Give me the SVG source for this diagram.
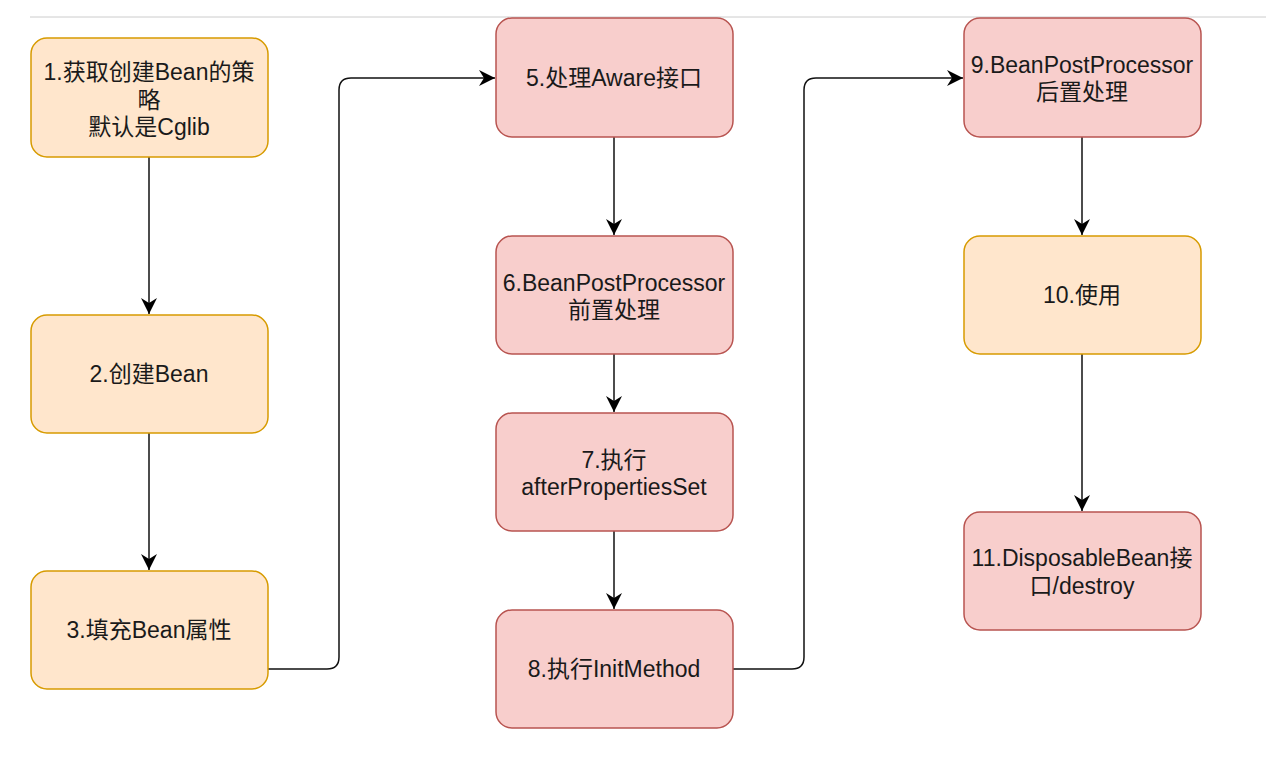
<svg xmlns="http://www.w3.org/2000/svg" width="1266" height="780" viewBox="0 0 1266 780">
<defs>
<marker id="arr" markerWidth="18" markerHeight="18" refX="16" refY="9" orient="auto" markerUnits="userSpaceOnUse">
<path d="M0,1 L16,9 L0,17 L5,9 Z" fill="#000"/>
</marker>
<style>
.o{fill:#ffe6cc;stroke:#d79b00;stroke-width:1.5}
.p{fill:#f8cecc;stroke:#b85450;stroke-width:1.5}
.t{font-family:"Liberation Sans","Noto Sans CJK SC",sans-serif;font-size:23px;fill:#1a1a1a;text-anchor:middle}
.c{fill:none;stroke:#111;stroke-width:1.5}
</style>
</defs>
<rect width="1266" height="780" fill="#fff"/>
<line x1="30" y1="17" x2="1266" y2="17" stroke="#ccc" stroke-width="1"/>
<g id="connectors">
<path class="c" d="M149,157 V314" marker-end="url(#arr)"/>
<path class="c" d="M149,433 V570" marker-end="url(#arr)"/>
<path class="c" d="M268,669 H327 Q339,669 339,657 V90 Q339,78 351,78 H495" marker-end="url(#arr)"/>
<path class="c" d="M614,137 V235" marker-end="url(#arr)"/>
<path class="c" d="M614,354 V412" marker-end="url(#arr)"/>
<path class="c" d="M614,531 V609" marker-end="url(#arr)"/>
<path class="c" d="M733,669 H792 Q804,669 804,657 V90 Q804,78 816,78 H963" marker-end="url(#arr)"/>
<path class="c" d="M1082,137 V235" marker-end="url(#arr)"/>
<path class="c" d="M1082,354 V511" marker-end="url(#arr)"/>
</g>
<g id="n1"><rect class="o" x="31" y="38" width="237" height="119" rx="16"/>
<text class="t" x="149" y="80">1.获取创建Bean的策</text><text class="t" x="149" y="108">略</text><text class="t" x="149" y="135">默认是Cglib</text></g>
<g id="n2"><rect class="o" x="31" y="315" width="237" height="118" rx="16"/>
<text class="t" x="149" y="382">2.创建Bean</text></g>
<g id="n3"><rect class="o" x="31" y="571" width="237" height="118" rx="16"/>
<text class="t" x="149" y="638">3.填充Bean属性</text></g>
<g id="n5"><rect class="p" x="496" y="18" width="237" height="119" rx="16"/>
<text class="t" x="614" y="86">5.处理Aware接口</text></g>
<g id="n6"><rect class="p" x="496" y="236" width="237" height="118" rx="16"/>
<text class="t" x="614" y="291">6.BeanPostProcessor</text><text class="t" x="614" y="318">前置处理</text></g>
<g id="n7"><rect class="p" x="496" y="413" width="237" height="118" rx="16"/>
<text class="t" x="614" y="468">7.执行</text><text class="t" x="614" y="495">afterPropertiesSet</text></g>
<g id="n8"><rect class="p" x="496" y="610" width="237" height="118" rx="16"/>
<text class="t" x="614" y="677">8.执行InitMethod</text></g>
<g id="n9"><rect class="p" x="964" y="18" width="237" height="119" rx="16"/>
<text class="t" x="1082" y="73">9.BeanPostProcessor</text><text class="t" x="1082" y="100">后置处理</text></g>
<g id="n10"><rect class="o" x="964" y="236" width="237" height="118" rx="16"/>
<text class="t" x="1082" y="303">10.使用</text></g>
<g id="n11"><rect class="p" x="964" y="512" width="237" height="118" rx="16"/>
<text class="t" x="1082" y="566">11.DisposableBean接</text><text class="t" x="1082" y="594">口/destroy</text></g>
</svg>
